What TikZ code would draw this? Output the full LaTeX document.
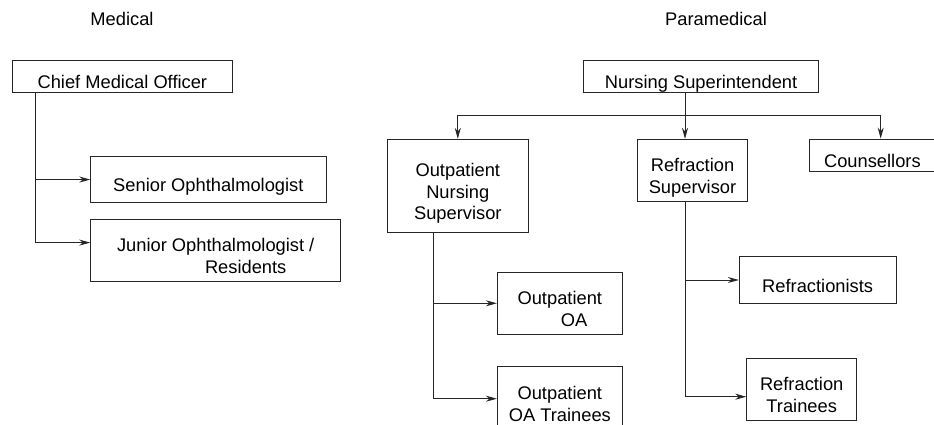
\documentclass[tikz,border=0pt]{standalone}
\usepackage{fontspec}
\setmainfont{Liberation Sans}
\usepackage{tikz}
\usetikzlibrary{positioning,arrows.meta}

\begin{document}
\begin{tikzpicture}[
            x=1pt, y=-1pt,
            font=\fontsize{18.3}{21.7}\selectfont,
            >={Stealth[length=11pt, width=6pt]},
            box/.style={rectangle, draw=black!85, line width=0.9pt, inner sep=0pt, align=center},
            oneline/.style={text height=28pt, text depth=3.9pt},
            twoline/.style={text height=45.8pt, text depth=0pt},
            threeline/.style={text height=67.5pt, text depth=0pt},
            link/.style={->, line width=0.9pt, draw=black!85},
        ]
        \useasboundingbox (0,0) rectangle (934,425);
        \node[anchor=base] (medical)     at (122,26)                      {Medical};
        \node[anchor=base] (paramedical) at (716,26)                      {Paramedical};
        \node[box, oneline, minimum width=219.3pt, minimum height=31.3pt] (chief) at (122.35,76.65) {Chief Medical Officer};
        \node[box, oneline, minimum width=235pt, minimum height=31.3pt]   (nurse) [right = 350.7pt of chief] {Nursing Superintendent};
        \node[box, oneline, minimum width=235.3pt, minimum height=46.7pt] (senior) [below = 62.7pt of chief.south west, anchor=north west, xshift=78pt] {Senior Ophthalmologist};
        \node[box, twoline, align=left, minimum width=250pt, minimum height=61.6pt] (junior) [below = 16pt of senior.south west, anchor=north west] {Junior Ophthalmologist /\\\hspace*{88pt}Residents};
        \node[box, threeline, minimum width=141pt, minimum height=93.4pt]  (opsup)    at (457.8,186)   {Outpatient\\Nursing\\Supervisor};
        \node[box, twoline, minimum width=109.6pt, minimum height=62.4pt]  (refsup)   at (692.5,170.5) {Refraction\\Supervisor};
        \node[box, oneline, minimum width=126.2pt, minimum height=31.4pt]  (couns)    at (872.4,155)   {Counsellors};
        \node[box, twoline, align=left, minimum width=125pt, minimum height=62pt] (opoa) at (559.8,303.3) {Outpatient\\\hspace*{43.3pt}OA};
        \node[box, twoline, minimum width=125pt, minimum height=65pt]      (optrain)  [below = 31pt of opoa] {Outpatient\\OA Trainees};
        \node[box, oneline, minimum width=156.7pt, minimum height=46.6pt]  (refr)     at (817.65,280)  {Refractionists};
        \node[box, twoline, minimum width=110pt, minimum height=61.7pt]    (reftrain) at (801.7,389.2) {Refraction\\Trainees};
        \coordinate (hub) at (685,115.7);
        \draw[link] ([xshift=23pt]chief.south west) |- (senior.west);
        \draw[link] ([xshift=23pt]chief.south west) |- ([yshift=8pt]junior.west);
        \draw[link] (nurse.south -| hub) -- (hub |- refsup.north);
        \draw[link] (hub) -| (opsup.north);
        \draw[link] (hub) -| ([xshift=8.3pt]couns.north);
        \draw[link] ([xshift=47pt]opsup.south west) |- (opoa.west);
        \draw[link] ([xshift=47pt]opsup.south west) |- (optrain.west);
        \draw[link] (refsup.south -| hub) |- (refr.west);
        \draw[link] (refsup.south -| hub) |- ([yshift=-7.5pt]reftrain.west);
    \end{tikzpicture}
\end{document}
